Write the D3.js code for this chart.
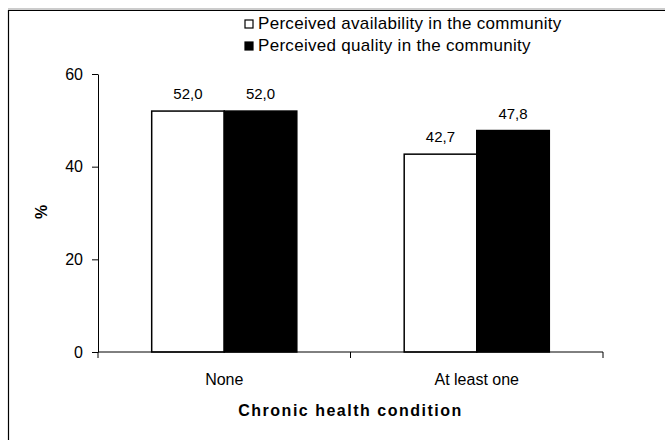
<!DOCTYPE html>
<html>
<head>
<meta charset="utf-8">
<script src="https://cdn.jsdelivr.net/npm/d3@7"></script>
<style>
  body { margin: 0; background: #fff; }
  svg text { font-family: "Liberation Sans", Arial, sans-serif; fill: #000; }
</style>
</head>
<body>
<div id="chart"></div>
<script>
// Chart data
const categories = ["None", "At least one"];
const seriesNames = [
  "Perceived availability in the community",
  "Perceived quality in the community",
];
const availability = [52.0, 42.7];
const quality = [52.0, 47.8];
const yTicks = [0, 20, 40, 60];
const seriesFill = ["#ffffff", "#000000"];

const width = 665;
const height = 440;
const plot = { left: 98, right: 603, top: 74, bottom: 352 };

const svg = d3
  .select("#chart")
  .append("svg")
  .attr("width", width)
  .attr("height", height);

// outer frame (only top and left edges are visible)
svg.append("line").attr("x1", 8).attr("x2", 665).attr("y1", 9).attr("y2", 9)
  .attr("stroke", "#999").attr("stroke-width", 1);
svg.append("line").attr("x1", 8).attr("x2", 665).attr("y1", 10.5).attr("y2", 10.5)
  .attr("stroke", "#000").attr("stroke-width", 1.2);
svg.append("line").attr("x1", 8.5).attr("x2", 8.5).attr("y1", 10).attr("y2", 440)
  .attr("stroke", "#000").attr("stroke-width", 1.2);

const x0 = d3.scaleBand().domain(categories).range([plot.left, plot.right]).padding(0);
const x1 = d3
  .scaleBand()
  .domain(d3.range(seriesNames.length))
  .range([0, x0.bandwidth()])
  .paddingInner(0)
  .paddingOuter(0.74);
const y = d3.scaleLinear().domain([0, 60]).range([plot.bottom, plot.top]);

const data = categories.map((c, i) => ({
  category: c,
  values: [availability[i], quality[i]],
}));

// bars
const groups = svg
  .selectAll(".group")
  .data(data)
  .enter()
  .append("g")
  .attr("transform", (d) => `translate(${x0(d.category)},0)`);

groups
  .selectAll("rect")
  .data((d) => d.values.map((v, k) => ({ v, k })))
  .enter()
  .append("rect")
  .attr("x", (d) => x1(d.k))
  .attr("y", (d) => y(d.v))
  .attr("width", x1.bandwidth())
  .attr("height", (d) => y(0) - y(d.v))
  .attr("fill", (d) => seriesFill[d.k])
  .attr("stroke", "#000")
  .attr("stroke-width", 1.5);

groups
  .selectAll(".val")
  .data((d) => d.values.map((v, k) => ({ v, k })))
  .enter()
  .append("text")
  .attr("x", (d) => x1(d.k) + x1.bandwidth() / 2)
  .attr("y", (d) => y(d.v) - 12)
  .attr("text-anchor", "middle")
  .style("font-size", "15px")
  .text((d) => d.v.toFixed(1).replace(".", ","));

// y axis
const yAxis = svg
  .append("g")
  .attr("transform", `translate(${plot.left},0)`)
  .call(d3.axisLeft(y).tickValues(yTicks).tickSize(6).tickPadding(9).tickSizeOuter(0));
yAxis.select(".domain").attr("stroke", "#000");
yAxis.selectAll(".tick line").attr("stroke", "#000");
yAxis.selectAll("text").style("font-size", "16px").attr("fill", "#000")
  .style("font-family", "'Liberation Sans', Arial, sans-serif");

// x axis: boundary ticks between categories
const xAxis = svg
  .append("g")
  .attr("transform", `translate(0,${plot.bottom})`);
xAxis.append("line")
  .attr("x1", plot.left).attr("x2", plot.right)
  .attr("stroke", "#000");
const boundaries = [...categories.map((c) => x0(c)), plot.right];
xAxis
  .selectAll(".btick")
  .data(boundaries)
  .enter()
  .append("line")
  .attr("x1", (d) => d).attr("x2", (d) => d)
  .attr("y1", 0).attr("y2", 6)
  .attr("stroke", "#000");
xAxis
  .selectAll(".clabel")
  .data(categories)
  .enter()
  .append("text")
  .attr("x", (d) => x0(d) + x0.bandwidth() / 2)
  .attr("y", 33)
  .attr("text-anchor", "middle")
  .style("font-size", "16px")
  .text((d) => d);

// axis titles
svg
  .append("text")
  .attr("x", (plot.left + plot.right) / 2)
  .attr("y", 416)
  .attr("text-anchor", "middle")
  .style("font-size", "16px")
  .style("font-weight", "bold")
  .style("letter-spacing", "1.5px")
  .text("Chronic health condition");

svg
  .append("text")
  .attr("transform", `translate(47,212) rotate(-90)`)
  .attr("text-anchor", "middle")
  .style("font-size", "16px")
  .style("font-weight", "bold")
  .text("%");

// legend
const legend = svg
  .selectAll(".legend")
  .data(seriesNames)
  .enter()
  .append("g")
  .attr("transform", (d, i) => `translate(245,${20 + i * 22})`);
legend
  .append("rect")
  .attr("width", 8)
  .attr("height", 8)
  .attr("fill", (d, i) => seriesFill[i])
  .attr("stroke", "#000")
  .attr("stroke-width", 1.2);
legend
  .append("text")
  .attr("x", 13)
  .attr("y", 9)
  .style("font-size", "17px")
  .style("letter-spacing", "0.3px")
  .text((d) => d);
</script>
</body>
</html>
